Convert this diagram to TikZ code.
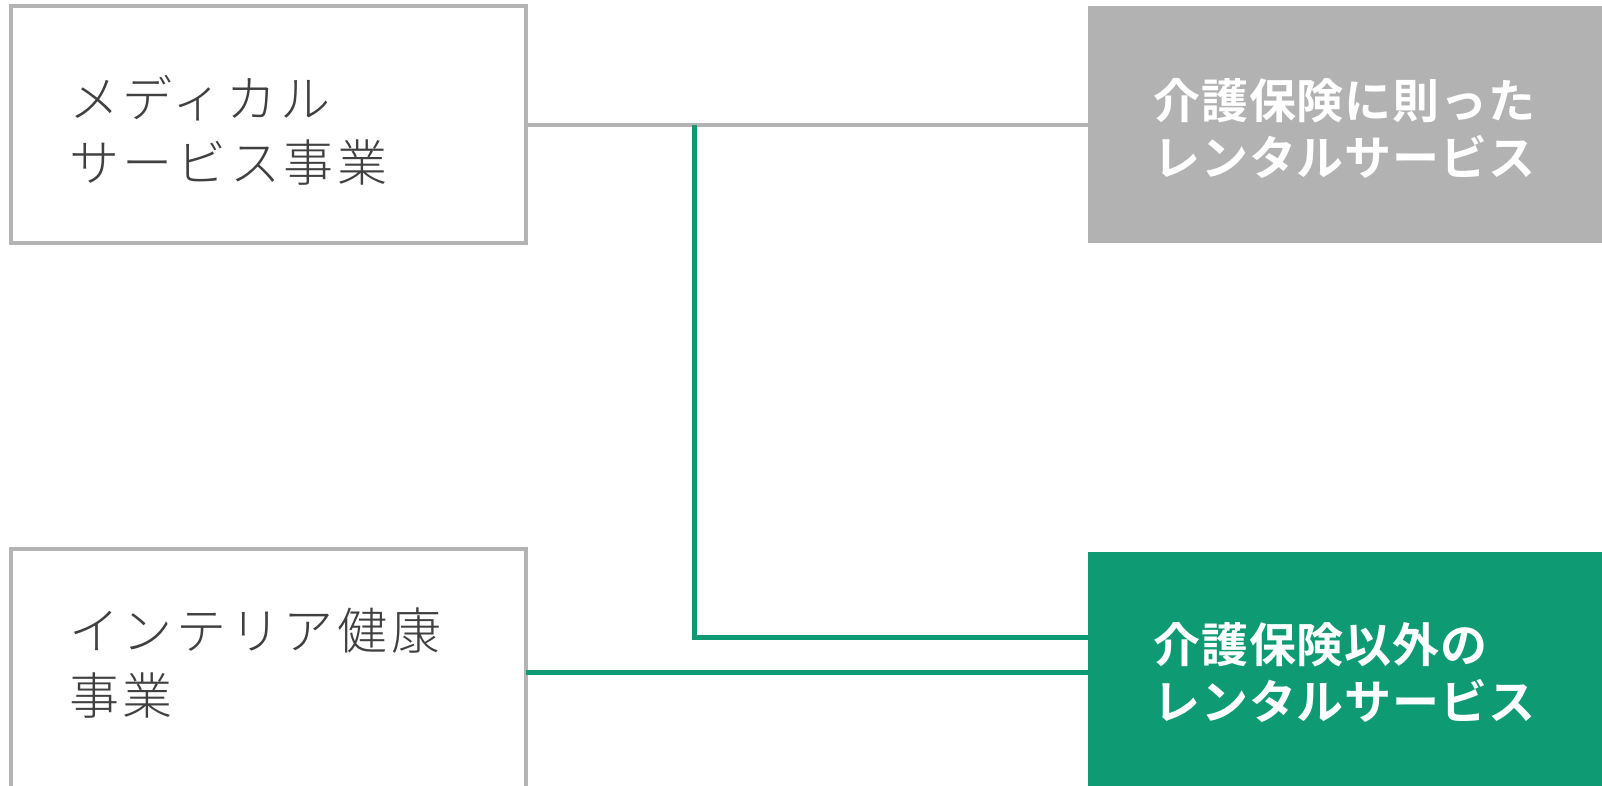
\documentclass[tikz,border=0pt]{standalone}
\usepackage{fontspec}
\newfontfamily\jplight[LetterSpace=7.3]{Noto Sans CJK JP Light}
\newfontfamily\jpbold[LetterSpace=2]{Noto Sans CJK JP Bold}
\definecolor{boxgray}{HTML}{B4B4B4}
\definecolor{fillgray}{HTML}{B2B2B2}
\definecolor{darkgreen}{HTML}{0E9B73}
\definecolor{textgray}{HTML}{404040}
\tikzset{
  leftbox/.style={draw=boxgray, line width=4pt, fill=white, inner sep=0pt, outer sep=0pt},
  rightbox/.style={draw=none, inner sep=0pt, outer sep=0pt},
  lefttext/.style={anchor=west, align=left, inner sep=0pt, text=textgray,
    font=\jplight\fontsize{50}{64.5}\selectfont},
  righttext/.style={anchor=west, align=left, inner sep=0pt, text=white,
    font=\jpbold\fontsize{47}{57}\selectfont},
  grayline/.style={draw=boxgray, line width=4pt},
  greenline/.style={draw=darkgreen, line width=5pt}
}
\begin{document}
\begin{tikzpicture}[x=1pt,y=-1pt]
\useasboundingbox (0,0) rectangle (1602,785);
\fill[white] (0,0) rectangle (1602,785);
% boxes
\node[leftbox, minimum width=515pt, minimum height=237pt] (med) at (268.5,124.5) {};
\node[leftbox, minimum width=515pt, minimum height=251pt] (inter) at (268.5,674.5) {};
\node[rightbox, fill=fillgray, minimum width=514pt, minimum height=237pt] (ins) at (1345,124.5) {};
\node[rightbox, fill=darkgreen, minimum width=514pt, minimum height=248pt] (nonins) at (1345,676) {};
% texts
\node[lefttext] (medtxt) at (69,130.5) {メディカル\\サービス事業};
\node[lefttext] (intertxt) at (69,663) {インテリア健康\\事業};
\node[righttext] (instxt) at (1153,129) {介護保険に則った\\レンタルサービス};
\node[righttext] (noninstxt) at (1153,673) {介護保険以外の\\レンタルサービス};
% connectors
\coordinate (j1) at (694,124.5);
\coordinate (j2) at (694,637);
\coordinate (j3) at (600,672);
\draw[grayline] (med.east) -- (ins.west);
\draw[greenline] (j1) -- (j2) -- (j2 -| nonins.west);
\draw[greenline] (inter.east |- j3) -- (j3 -| nonins.west);
\end{tikzpicture}
\end{document}
